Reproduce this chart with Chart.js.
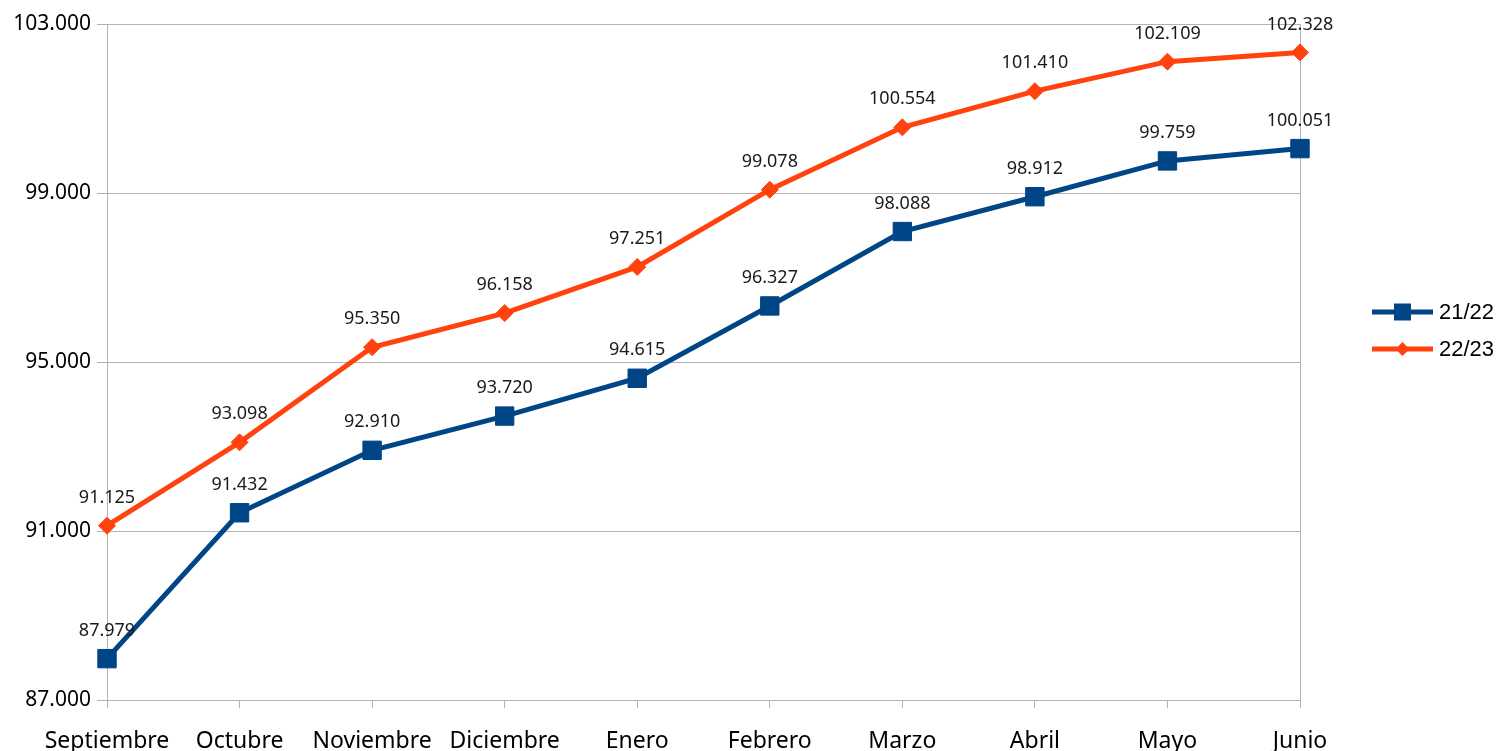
<!DOCTYPE html>
<html>
<head>
<meta charset="utf-8">
<script src="https://cdn.jsdelivr.net/npm/chart.js@4"></script>
<style>
html,body{margin:0;padding:0;background:#fff;}
#wrap{width:1508px;height:751px;position:relative;}
</style>
</head>
<body>
<div id="wrap"><canvas id="c"></canvas></div>
<script>
const categories = ["Septiembre","Octubre","Noviembre","Diciembre","Enero","Febrero","Marzo","Abril","Mayo","Junio"];
const series2122 = [87979, 91432, 92910, 93720, 94615, 96327, 98088, 98912, 99759, 100051];
const series2223 = [91125, 93098, 95350, 96158, 97251, 99078, 100554, 101410, 102109, 102328];
const seriesNames = ["21/22", "22/23"];
const yTicks = [87000, 91000, 95000, 99000, 103000];

const BLUE = "#004586", ORANGE = "#ff420e", GRID = "#b3b3b3";
function fmt(v){ return String(v).replace(/\B(?=(\d{3})+(?!\d))/g, "."); }

const dataLabels = {
  id: "dataLabels",
  afterDatasetsDraw(chart){
    const ctx = chart.ctx;
    ctx.save();
    ctx.font = "18px 'Noto Sans'";
    ctx.fillStyle = "#1a1a1a";
    ctx.textAlign = "center";
    ctx.textBaseline = "middle";
    chart.data.datasets.forEach((ds, i) => {
      const meta = chart.getDatasetMeta(i);
      meta.data.forEach((p, j) => {
        ctx.fillText(fmt(ds.data[j]), p.x, p.y - 28);
      });
    });
    ctx.restore();
  }
};

const customLegend = {
  id: "customLegend",
  afterDraw(chart){
    const ctx = chart.ctx;
    ctx.save();
    const items = [
      {name: seriesNames[0], color: BLUE, style: "rect", y: 312},
      {name: seriesNames[1], color: ORANGE, style: "diamond", y: 349}
    ];
    items.forEach(it => {
      ctx.strokeStyle = it.color;
      ctx.lineWidth = 5;
      ctx.beginPath();
      ctx.moveTo(1372, it.y);
      ctx.lineTo(1433, it.y);
      ctx.stroke();
      ctx.fillStyle = it.color;
      const cx = 1402.5;
      if (it.style === "rect") {
        ctx.fillRect(cx - 8.5, it.y - 8.5, 17, 17);
      } else {
        ctx.beginPath();
        ctx.moveTo(cx, it.y - 7);
        ctx.lineTo(cx + 7, it.y);
        ctx.lineTo(cx, it.y + 7);
        ctx.lineTo(cx - 7, it.y);
        ctx.closePath();
        ctx.fill();
      }
      ctx.fillStyle = "#000";
      ctx.font = "22px 'Liberation Sans'";
      ctx.textAlign = "left";
      ctx.textBaseline = "middle";
      ctx.fillText(it.name, 1439, it.y + 1);
    });
    ctx.restore();
  }
};

new Chart(document.getElementById("c"), {
  type: "line",
  data: {
    labels: categories,
    datasets: [
      {label: seriesNames[0], data: series2122, borderColor: BLUE, backgroundColor: BLUE,
       borderWidth: 5, tension: 0, pointStyle: "rect", pointRadius: 13, pointHoverRadius: 13,
       pointBorderWidth: 1, pointBorderColor: BLUE},
      {label: seriesNames[1], data: series2223, borderColor: ORANGE, backgroundColor: ORANGE,
       borderWidth: 5, tension: 0, pointStyle: "rectRot", pointRadius: 8.5, pointHoverRadius: 8.5,
       pointBorderWidth: 1, pointBorderColor: ORANGE}
    ]
  },
  options: {
    responsive: true,
    maintainAspectRatio: false,
    animation: false,
    events: [],
    layout: {padding: {top: 24, right: 208, left: 0, bottom: 0}},
    plugins: {legend: {display: false}, tooltip: {enabled: false}},
    scales: {
      x: {
        offset: false,
        afterFit(s){ s.height = 51; },
        grid: {
          color: ctx => (ctx.index === 0 || ctx.index === categories.length - 1) ? GRID : "rgba(0,0,0,0)",
          tickColor: GRID, tickLength: 8, drawTicks: true
        },
        border: {color: GRID},
        ticks: {color: "#000", font: {family: "'Noto Sans'", size: 23}, padding: 20, maxRotation: 0, autoSkip: false}
      },
      y: {
        min: 87000, max: 103000,
        afterFit(s){ s.width = 107; },
        afterBuildTicks(s){ s.ticks = yTicks.map(v => ({value: v})); },
        grid: {color: GRID, tickColor: GRID, tickLength: 10},
        border: {color: GRID},
        ticks: {color: "#000", font: {family: "'Noto Sans'", size: 21}, padding: 6,
                callback: v => fmt(v)}
      }
    }
  },
  plugins: [dataLabels, customLegend]
});
</script>
</body>
</html>
